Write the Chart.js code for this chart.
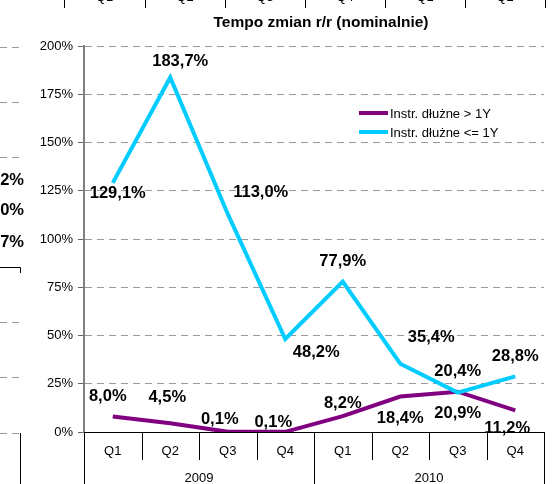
<!DOCTYPE html>
<html>
<head>
<meta charset="utf-8">
<script src="https://cdn.jsdelivr.net/npm/chart.js@4"></script>
<style>
html,body{margin:0;padding:0;background:#fff;}
#wrap{position:relative;width:557px;height:484px;}
</style>
</head>
<body>
<div id="wrap"><canvas id="c" width="557" height="484"></canvas></div>
<script>
// ---- data ----
const categories = ['Q1','Q2','Q3','Q4','Q1','Q2','Q3','Q4'];
const years = ['2009','2010'];
const seriesNames = ['Instr. dłużne > 1Y', 'Instr. dłużne <= 1Y'];
const longTerm = [8.0, 4.5, 0.1, 0.1, 8.2, 18.4, 20.9, 11.2];
const shortTerm = [129.1, 183.7, 113.0, 48.2, 77.9, 35.4, 20.4, 28.8];
const yTickValues = [0, 25, 50, 75, 100, 125, 150, 175, 200];
const titleText = 'Tempo zmian r/r (nominalnie)';
// neighbouring-chart fragments visible at the picture's edges
const topFragmentLabels = ['Q1','Q2','Q3','Q4','Q1','Q2'];
const leftFragmentLabels = ['2%', ',0%', ',7%'];

// ---- label placement (offsets from each point, px) ----
const longLabelOffsets = [[-5,-20],[-3,-26],[-8,-12],[-12,-9],[0,-13],[0,22],[0,22],[-8,18]];
const shortLabelOffsets = [[5,11],[10,-16],[33,-21],[31,13],[0,-20],[31,-26],[0,-21],[0,-20]];

const PURPLE = '#800080';
const CYAN = '#00CCFF';
const fmt = v => v.toFixed(1).replace('.', ',') + '%';

const overlay = {
  id: 'overlay',
  afterDraw(chart) {
    const ctx = chart.ctx;
    const ca = chart.chartArea;
    const xs = chart.scales.x;
    ctx.save();
    // title
    ctx.fillStyle = '#000';
    ctx.font = 'bold 15.5px Arial, "Liberation Sans", sans-serif';
    ctx.textAlign = 'center';
    ctx.textBaseline = 'middle';
    ctx.fillText(titleText, 321, 23);

    // x axis separators
    const step = xs.getPixelForValue(1) - xs.getPixelForValue(0);
    ctx.strokeStyle = '#000';
    ctx.lineWidth = 1;
    for (let i = 0; i <= categories.length; i++) {
      const x = Math.round(xs.getPixelForValue(0) - step / 2 + i * step) + 0.5;
      const longSep = (i % 4 === 0);
      ctx.beginPath();
      ctx.moveTo(x, ca.bottom);
      ctx.lineTo(x, longSep ? 484 : ca.bottom + 28);
      ctx.stroke();
    }
    // year labels
    ctx.font = '13px Arial, "Liberation Sans", sans-serif';
    ctx.textAlign = 'center';
    years.forEach((yr, k) => {
      const x0 = xs.getPixelForValue(k * 4) - step / 2;
      ctx.fillText(yr, x0 + step * 2, 478);
    });

    // legend
    const legY = [113, 132];
    const legCol = [PURPLE, CYAN];
    ctx.textAlign = 'left';
    ctx.font = '13px Arial, "Liberation Sans", sans-serif';
    seriesNames.forEach((n, k) => {
      ctx.strokeStyle = legCol[k];
      ctx.lineWidth = 4;
      ctx.beginPath();
      ctx.moveTo(359, legY[k]);
      ctx.lineTo(388, legY[k]);
      ctx.stroke();
      ctx.fillStyle = '#000';
      ctx.fillText(n, 390, legY[k] + 1);
    });

    // data labels
    ctx.font = 'bold 16.5px Arial, "Liberation Sans", sans-serif';
    ctx.textAlign = 'center';
    ctx.textBaseline = 'middle';
    ctx.fillStyle = '#000';
    const sets = [[longTerm, longLabelOffsets], [shortTerm, shortLabelOffsets]];
    sets.forEach(([vals, offs], di) => {
      const meta = chart.getDatasetMeta(di);
      meta.data.forEach((pt, i) => {
        ctx.fillText(fmt(vals[i]), pt.x + offs[i][0], pt.y + offs[i][1]);
      });
    });

    // fragments of neighbouring charts
    ctx.strokeStyle = '#000';
    ctx.lineWidth = 1;
    const topTicks = [64, 145, 225, 305, 385, 465, 545];
    topTicks.forEach(x => {
      ctx.beginPath(); ctx.moveTo(x + 0.5, 0); ctx.lineTo(x + 0.5, 8); ctx.stroke();
    });
    ctx.font = '13px Arial, "Liberation Sans", sans-serif';
    ctx.textBaseline = 'alphabetic';
    topFragmentLabels.forEach((t, k) => {
      ctx.fillText(t, (topTicks[k] + topTicks[k + 1]) / 2, 1);
    });
    ctx.strokeStyle = '#999';
    ctx.setLineDash([7, 5]);
    [47, 102, 157, 322, 377, 433].forEach(y => {
      ctx.beginPath(); ctx.moveTo(0, y + 0.5); ctx.lineTo(21, y + 0.5); ctx.stroke();
    });
    ctx.setLineDash([]);
    ctx.strokeStyle = '#000';
    ctx.beginPath(); ctx.moveTo(0, 267.5); ctx.lineTo(20.5, 267.5); ctx.lineTo(20.5, 273); ctx.stroke();
    ctx.beginPath(); ctx.moveTo(20.5, 433); ctx.lineTo(20.5, 484); ctx.stroke();
    ctx.font = 'bold 16.5px Arial, "Liberation Sans", sans-serif';
    ctx.textAlign = 'right';
    ctx.textBaseline = 'middle';
    [180, 210, 242].forEach((y, k) => ctx.fillText(leftFragmentLabels[k], 24, y));
    ctx.restore();
  }
};

new Chart(document.getElementById('c'), {
  type: 'line',
  data: {
    labels: categories,
    datasets: [
      { label: seriesNames[0], data: longTerm, borderColor: PURPLE, backgroundColor: PURPLE,
        borderWidth: 4, pointRadius: 0, tension: 0, order: 1 },
      { label: seriesNames[1], data: shortTerm, borderColor: CYAN, backgroundColor: CYAN,
        borderWidth: 4, pointRadius: 0, tension: 0, order: 0 }
    ]
  },
  options: {
    responsive: false,
    devicePixelRatio: 1,
    animation: false,
    layout: { padding: { left: 0, right: 13, top: 46, bottom: 0 } },
    plugins: { legend: { display: false }, title: { display: false }, tooltip: { enabled: false } },
    scales: {
      x: {
        type: 'category',
        offset: true,
        grid: { display: false, drawTicks: false },
        border: { display: true, color: '#000', width: 1 },
        ticks: { color: '#000', font: { family: 'Arial, "Liberation Sans", sans-serif', size: 13 }, padding: 12, maxRotation: 0, autoSkip: false },
        afterFit(s) { s.height = 52; }
      },
      y: {
        min: 0, max: 200,
        afterBuildTicks(s) { s.ticks = yTickValues.map(v => ({ value: v })); },
        ticks: { color: '#000', font: { family: 'Arial, "Liberation Sans", sans-serif', size: 13 }, padding: 5,
                 callback: v => v + '%' },
        grid: {
          color: c => (c.tick && c.tick.value === 0) ? 'rgba(0,0,0,0)' : '#999',
          lineWidth: 1, drawTicks: true, tickLength: 6, tickColor: '#666', tickWidth: 1
        },
        border: { display: true, color: '#808080', width: 2, dash: [7, 5] },
        afterFit(s) { s.width = 84; }
      }
    }
  },
  plugins: [overlay]
});
</script>
</body>
</html>
